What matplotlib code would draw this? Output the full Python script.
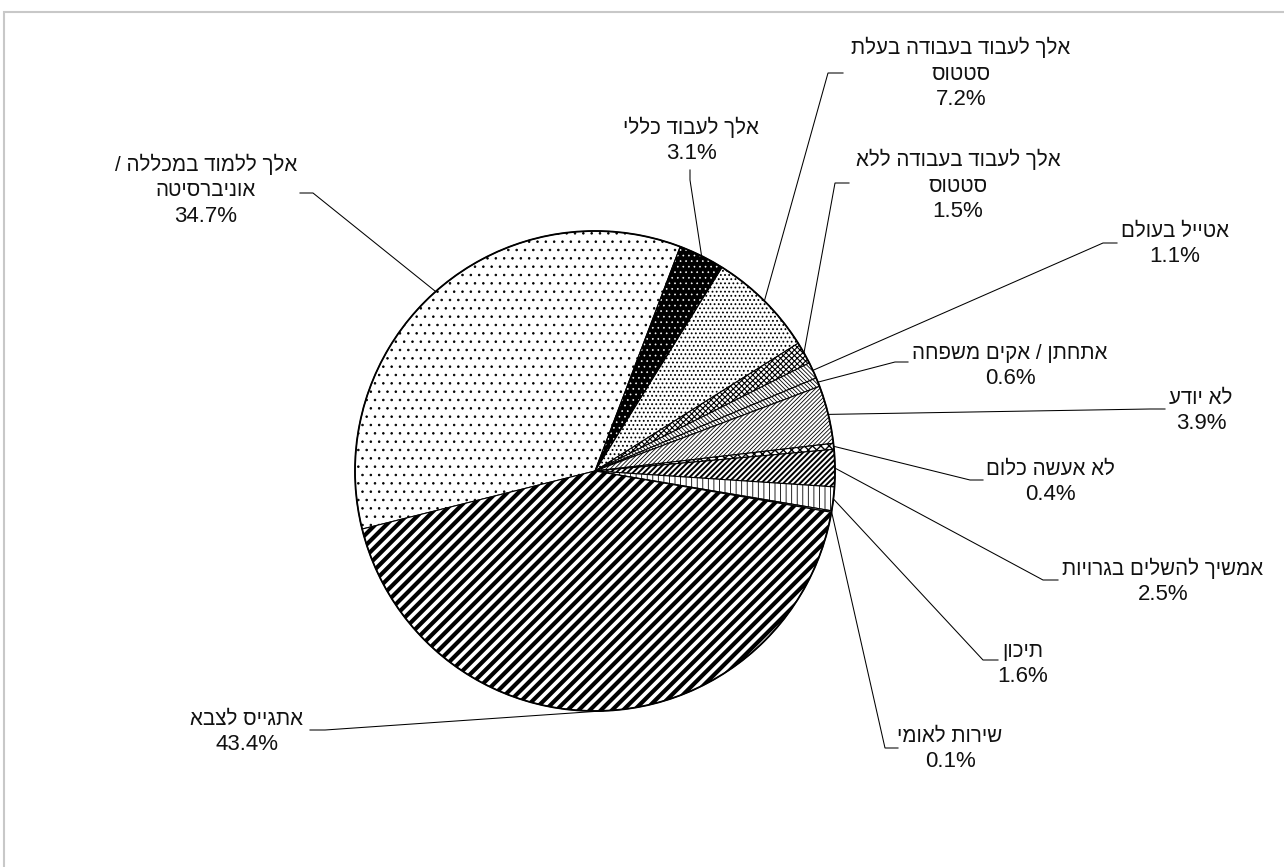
import matplotlib
matplotlib.use("Agg")
import matplotlib.pyplot as plt
from matplotlib.patches import Rectangle, Wedge
import numpy as np

# ---------------- data ----------------
categories = [
    "אלך ללמוד במכללה /\nאוניברסיטה",
    "אלך לעבוד כללי",
    "אלך לעבוד בעבודה בעלת\nסטטוס",
    "אלך לעבוד בעבודה ללא\nסטטוס",
    "אטייל בעולם",
    "אתחתן / אקים משפחה",
    "לא יודע",
    "לא אעשה כלום",
    "אמשיך להשלים בגרויות",
    "תיכון",
    "שירות לאומי",
    "אתגייס לצבא",
]
values = [34.7, 3.1, 7.2, 1.5, 1.1, 0.6, 3.9, 0.4, 2.5, 1.6, 0.1, 43.4]

# ---------------- layout / style (pixel coords, y from top) ----------------
W, H = 1284, 867
CX, CY, R = 595, 471, 240
label_centers = [(206, 190), (691, 140), (961, 73), (958, 185), (1175, 243),
                 (1010, 365), (1201, 410), (1050, 481), (1163, 581),
                 (1023, 663), (950, 748), (247, 731)]
elbows = [(313, 193), (690, 180), (828, 73), (835, 183), (1103, 243),
          (895, 362), (1150, 409), (970, 480), (1043, 580), (983, 660),
          (885, 748), (325, 730)]
ends = [(300, 193), (690, 170), (843, 73), (849, 183), (1117, 243),
        (908, 362), (1165, 409), (983, 480), (1058, 580), (998, 660),
        (898, 748), (310, 730)]
hatches = ['..', '...', '....', 'xxxxxx', '\\\\\\\\\\\\\\\\', '\\\\\\\\\\\\\\\\',
           '////////', 'xxxx', '//////', '|||', '----', '///']
hatch_lws = [0.6, 0.45, 0.8, 0.8, 0.6, 0.6, 0.6, 1.0, 1.4, 0.6, 0.6, 3.0]
FONT = ['Liberation Sans', 'DejaVu Sans']
LINE_H = 25.5
HEB_SIZE = 14.8
PCT_SIZE = 16


def vis(s):
    """Visual (left-to-right) order for an RTL Hebrew line."""
    return s[::-1]


def py(y):
    return H - y


fig = plt.figure(figsize=(W / 100, H / 100), dpi=100)
ax = fig.add_axes([0, 0, 1, 1])

wedges, _ = ax.pie(values, startangle=194, counterclock=False,
                   center=(CX, py(CY)), radius=R,
                   colors=['white'] * len(values),
                   wedgeprops=dict(edgecolor='black', linewidth=0.8))

for i, w in enumerate(wedges):
    w.set_hatch(hatches[i])
    if hasattr(w, 'set_hatch_linewidth'):
        w.set_hatch_linewidth(hatch_lws[i])
    else:
        w._hatch_linewidth = hatch_lws[i]
    if i == 1:
        # black wedge with white dots
        w.set_facecolor('black')
        w.set_edgecolor('white')
        w.set_linewidth(0)
        outline = Wedge(w.center, w.r, w.theta1, w.theta2, fill=False,
                        edgecolor='black', linewidth=0.8)
        ax.add_patch(outline)

# outer circle
ax.add_patch(plt.Circle((CX, py(CY)), R, fill=False, edgecolor='black', linewidth=1.3))

# labels + leader lines
for i, w in enumerate(wedges):
    tm = np.deg2rad((w.theta1 + w.theta2) / 2)
    px = w.center[0] + R * np.cos(tm)
    pyy = w.center[1] + R * np.sin(tm)
    ex, ey = elbows[i]
    tx, ty = ends[i]
    ax.plot([px, ex, tx], [pyy, py(ey), py(ty)], color='black', lw=0.75,
            solid_joinstyle='miter')
    lx, ly = label_centers[i]
    lines = categories[i].split("\n")
    n = len(lines) + 1
    for k in range(n):
        yc = ly + (k - (n - 1) / 2) * LINE_H
        if k < len(lines):
            s, fs = vis(lines[k]), HEB_SIZE
        else:
            s, fs = f"{values[i]:.1f}%", PCT_SIZE
        ax.text(lx, py(yc + 6.5), s, ha='center', va='baseline', fontsize=fs,
                family=FONT, color='#111111')

ax.set_xlim(0, W)
ax.set_ylim(0, H)
ax.set_aspect('equal')
ax.axis('off')

# outer frame (only top and left edges fall inside the picture)
fig.patches.append(Rectangle((4 / W, -10 / H), 1300 / W, (H - 12 + 10) / H,
                             transform=fig.transFigure, fill=False,
                             edgecolor='#c8c8c8', linewidth=1.5))

fig.savefig("out.png", dpi=100)
